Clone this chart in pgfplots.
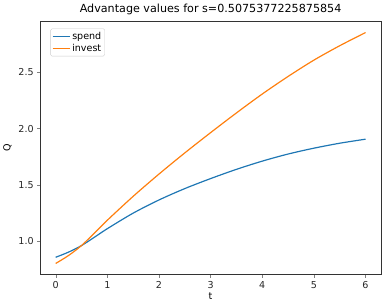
\documentclass[border=0pt]{standalone}
\usepackage{fontspec}
\setmainfont{DejaVu Sans}
\usepackage{pgfplots}
\pgfplotsset{compat=1.18}
\definecolor{mplblue}{HTML}{1F77B4}
\definecolor{mplorange}{HTML}{FF7F0E}
\begin{document}
\begin{tikzpicture}
\begin{axis}[
  scale only axis,
  width=342.5pt, height=255pt,
  xmin=-0.3, xmax=6.3, ymin=0.7025, ymax=2.9565,
  xtick={0,1,2,3,4,5,6},
  ytick={1.0,1.5,2.0,2.5},
  yticklabel style={/pgf/number format/.cd,fixed,fixed zerofill,precision=1},
  /pgf/number format/assume math mode=true,
  tick label style={font=\fontsize{9.6}{11}\selectfont, text=black!85},
  label style={font=\fontsize{9.6}{11}\selectfont},
  xlabel style={yshift=2pt},
  tick align=outside, tickpos=left,
  major tick length=3pt,
  axis line style={black!80, line width=0.6pt},
  xlabel={t}, ylabel={Q},
  title={Advantage values for s=0.5075377225875854},
  title style={font=\fontsize{11.2}{13}\selectfont, yshift=-3pt},
  legend pos=north west,
  legend style={font=\fontsize{9.6}{11}\selectfont, draw=black!20, rounded corners=1.5pt, inner sep=1.5pt, row sep=-1pt},
  legend cell align=left,
  legend image post style={line width=1.2pt},
]
\addplot[mplblue, line width=1.2pt, smooth, tension=0.5] coordinates {
(0,0.857) (0.25,0.903) (0.5,0.961) (0.75,1.035) (1,1.111) (1.5,1.249) (2,1.366)
(2.5,1.467) (3,1.556) (3.5,1.638) (4,1.711) (4.5,1.774) (5,1.826) (5.5,1.870) (6,1.906)};
\addlegendentry{spend}
\addplot[mplorange, line width=1.2pt, smooth, tension=0.5] coordinates {
(0,0.802) (0.25,0.873) (0.5,0.961) (0.75,1.072) (1,1.186) (1.5,1.398) (2,1.596)
(2.5,1.784) (3,1.964) (3.5,2.139) (4,2.307) (4.5,2.463) (5,2.608) (5.5,2.736) (6,2.853)};
\addlegendentry{invest}
\end{axis}
\path ([shift={(-38.5pt,-32pt)}]current axis.south west) rectangle ([shift={(6pt,21pt)}]current axis.north east);
\end{tikzpicture}
\end{document}
